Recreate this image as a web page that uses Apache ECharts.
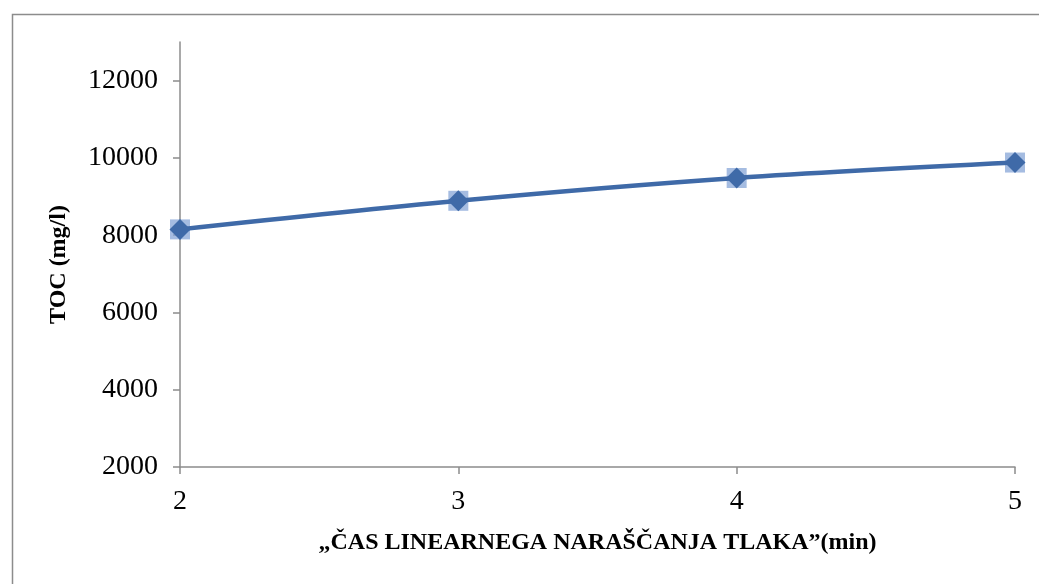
<!DOCTYPE html>
<html>
<head>
<meta charset="utf-8">
<script src="https://cdn.jsdelivr.net/npm/echarts@6/dist/echarts.min.js"></script>
<style>html,body{margin:0;padding:0;background:#fff}#c{width:1039px;height:584px}</style>
</head>
<body>
<div id="c"></div>
<script>
const xValues = [2, 3, 4, 5];
const tocValues = [8150, 8890, 9480, 9880];
const xAxisTitle = '„ČAS LINEARNEGA NARAŠČANJA TLAKA”(min)';
const yAxisTitle = 'TOC (mg/l)';

const pts = xValues.map((x, i) => [x, tocValues[i]]);
const font = '"Liberation Serif", "DejaVu Serif", serif';
const chart = echarts.init(document.getElementById('c'), null, {renderer: 'canvas'});
chart.setOption({
  animation: false,
  backgroundColor: '#fff',
  graphic: [{
    type: 'rect', left: 10, top: 12, shape: {width: 1100, height: 700},
    style: {fill: 'none', stroke: '#8c8c8c', lineWidth: 1.5}, silent: true, z: -1
  }],
  grid: {left: 180, right: 24, top: 42, bottom: 117, containLabel: false},
  xAxis: {
    type: 'value', min: 2, max: 5, interval: 1,
    name: xAxisTitle, nameLocation: 'middle', nameGap: 64,
    nameTextStyle: {fontFamily: font, fontWeight: 'bold', fontSize: 24, color: '#000'},
    axisLine: {show: true, lineStyle: {color: '#8c8c8c', width: 1.5}},
    axisTick: {show: true, length: 7, lineStyle: {color: '#8c8c8c', width: 1.5}},
    axisLabel: {fontFamily: font, fontSize: 28, color: '#000', margin: 21},
    splitLine: {show: false}
  },
  yAxis: {
    type: 'value', min: 2000, max: 13000, interval: 2000,
    name: yAxisTitle, nameLocation: 'middle', nameGap: 109, nameRotate: 90,
    nameTextStyle: {fontFamily: font, fontWeight: 'bold', fontSize: 24, color: '#000', padding: [0, 20, 0, 0]},
    axisLine: {show: true, lineStyle: {color: '#8c8c8c', width: 1.5}},
    axisTick: {show: true, length: 7, lineStyle: {color: '#8c8c8c', width: 1.5}},
    axisLabel: {fontFamily: font, fontSize: 28, color: '#000', margin: 22, showMaxLabel: false,
      formatter: v => v === 13000 ? '' : String(v)},
    splitLine: {show: false}
  },
  series: [
    {
      type: 'scatter', data: pts, symbol: 'rect', symbolSize: 20,
      itemStyle: {color: 'rgba(130,162,214,0.9)'}, z: 2
    },
    {
      type: 'line', data: pts, smooth: 0.35, symbol: 'diamond', symbolSize: 21,
      showSymbol: true,
      lineStyle: {color: '#3f6aa8', width: 4.5},
      itemStyle: {color: '#3f6aa8', borderWidth: 0}, z: 3
    }
  ]
});
</script>
</body>
</html>
